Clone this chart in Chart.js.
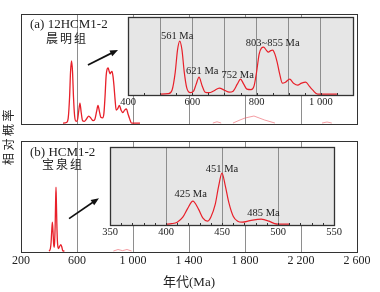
<!DOCTYPE html>
<html>
<head>
<meta charset="utf-8">
<script src="https://cdn.jsdelivr.net/npm/chart.js@4.4.0/dist/chart.umd.min.js"></script>
<style>
  html, body { margin: 0; padding: 0; background: #fff; }
  #wrap { position: relative; width: 380px; height: 292px; }
  #wrap canvas { position: absolute; left: 0; top: 0; }
</style>
</head>
<body>
<div id="wrap">
  <canvas id="mainA" width="380" height="292"></canvas>
  <canvas id="mainB" width="380" height="292"></canvas>
  <canvas id="insetA" width="380" height="292"></canvas>
  <canvas id="insetB" width="380" height="292"></canvas>
</div>
<script>
// (a) 12HCM1-2 晨明组 - probability density (main panel and inset share it)
const agesA = [500, 525, 537, 547, 554, 561, 568, 575, 583, 594, 604, 612, 621, 630, 640, 652, 668, 684, 700, 715,
               727, 740, 750, 760, 770, 783, 792, 800, 808, 815, 822, 830, 837, 844, 850, 857, 864, 872, 880, 890,
               903, 915, 928, 940, 953, 964, 975, 990, 1050];
const densA = [0, 0.5, 4, 22, 44, 53, 44, 22, 6, 1.5, 3, 10, 17, 9, 2, 1.5, 3.5, 6, 4, 2,
               3, 10, 15, 10, 5, 4.5, 8, 22, 40, 46, 47, 44, 42, 43.5, 44, 40, 32, 20, 11, 12,
               15, 11, 9, 11, 12, 8, 4, 0, 0];
// faint older ages in panel (a)
const faintAgesA = [1570, 1600, 1630, 1660, 1714, 1764, 1800, 1864, 1940, 2014, 2200, 2350, 2386, 2420];
const faintDensA = [0, 1.1, 0, null, 0, 2.6, 4.3, 6, 2.6, 0, null, 0, 0.9, 0];

// (b) HCM1-2 宝泉组
const agesB = [400, 405, 410, 415, 419, 424, 429, 433, 437, 440, 444, 447, 450, 453, 456, 460, 464, 468, 475, 485,
               492, 497, 500, 510];
const densB = [0, 0.5, 2, 7, 15, 23, 15, 6, 3, 7, 20, 38, 51, 38, 22, 8, 3, 2, 3.5, 5,
               3, 0.5, 0, 0];
const faintAgesB = [860, 893, 925, 957, 990];
const faintDensB = [0, 1.2, 0.3, 1.2, 0];

// tick values
const mainTicks = [200, 600, 1000, 1400, 1800, 2200, 2600];
const insetTicksA = [400, 500, 600, 700, 800, 900, 1000, 1100];
const insetLabelsA = [400, 600, 800, 1000];
const insetTicksB = [350, 400, 450, 500, 550];

const FONT = '"Liberation Serif", "Noto Sans CJK SC", serif';
const CJK = '"Noto Sans CJK SC", sans-serif';
const INK = '#222';
const RED = '#e8202a';
const PINK = 'rgba(236, 90, 100, 0.6)';
const GRID = '#8e8e8e';

const fmt = v => v >= 1000 ? String(v).replace(/(\d)(\d{3})$/, '$1 $2') : String(v);
const pts = (xs, ys) => xs.map((x, i) => ({ x, y: ys[i] }));

const innerGrid = (lo, hi) => c => (c.tick && (c.tick.value === lo || c.tick.value === hi)) ? 'rgba(0,0,0,0)' : GRID;

// frame + background of each panel
const framePlugin = {
  id: 'frame',
  beforeDraw(chart, args, o) {
    if (!o.fill) return;
    const a = chart.chartArea, ctx = chart.ctx;
    ctx.save();
    ctx.fillStyle = o.fill;
    ctx.fillRect(a.left, a.top, a.right - a.left, a.bottom - a.top);
    ctx.restore();
  },
  afterDatasetsDraw(chart, args, o) {
    const a = chart.chartArea, ctx = chart.ctx;
    ctx.save();
    ctx.strokeStyle = o.color || '#333';
    ctx.lineWidth = o.width || 1;
    ctx.strokeRect(Math.round(a.left) + 0.5, Math.round(a.top) + 0.5,
                   Math.round(a.right - a.left), Math.round(a.bottom - a.top));
    // small inner ticks along the bottom edge
    if (o.minor) {
      const x = chart.scales.x;
      ctx.lineWidth = 1;
      for (let v = x.min + o.minor; v < x.max; v += o.minor) {
        const px = Math.round(x.getPixelForValue(v)) + 0.5;
        ctx.beginPath();
        ctx.moveTo(px, a.bottom);
        ctx.lineTo(px, a.bottom - 2);
        ctx.stroke();
      }
    }
    ctx.restore();
  }
};

const arrowPlugin = {
  id: 'arrow',
  afterDatasetsDraw(chart, args, o) {
    if (!o.from) return;
    const { x, y } = chart.scales, ctx = chart.ctx;
    const x0 = x.getPixelForValue(o.from[0]), y0 = y.getPixelForValue(o.from[1]);
    const x1 = x.getPixelForValue(o.to[0]), y1 = y.getPixelForValue(o.to[1]);
    const ang = Math.atan2(y1 - y0, x1 - x0), L = 8, W = 3.2;
    const c = Math.cos(ang), s = Math.sin(ang);
    ctx.save();
    ctx.strokeStyle = ctx.fillStyle = '#111';
    ctx.lineWidth = 1.7;
    ctx.beginPath();
    ctx.moveTo(x0, y0);
    ctx.lineTo(x1 - L * 0.7 * c, y1 - L * 0.7 * s);
    ctx.stroke();
    ctx.beginPath();
    ctx.moveTo(x1, y1);
    ctx.lineTo(x1 - L * c + W * s, y1 - L * s - W * c);
    ctx.lineTo(x1 - L * c - W * s, y1 - L * s + W * c);
    ctx.closePath();
    ctx.fill();
    ctx.restore();
  }
};

const textPlugin = {
  id: 'texts',
  afterDatasetsDraw(chart, args, o) {
    const ctx = chart.ctx, { x, y } = chart.scales, a = chart.chartArea;
    ctx.save();
    ctx.fillStyle = INK;
    ctx.textBaseline = 'middle';
    (o.peaks || []).forEach(p => {
      ctx.font = '10.5px ' + FONT;
      ctx.textAlign = 'center';
      ctx.fillText(p.text, x.getPixelForValue(p.x), y.getPixelForValue(p.y));
    });
    if (o.name) {
      ctx.font = '13px ' + FONT;
      ctx.textAlign = 'left';
      ctx.fillText(o.name, a.left + 9, a.top + o.nameDy);
      ctx.font = '12px ' + CJK;
      ctx.textAlign = 'center';
      ctx.letterSpacing = '2px';
      ctx.fillText(o.unit, a.left + o.unitDx, a.top + o.unitDy);
      ctx.letterSpacing = '0px';
    }
    if (o.yTitle) {
      ctx.translate(8, (a.top + 252) / 2 + 3);
      ctx.rotate(-Math.PI / 2);
      ctx.font = '12px ' + CJK;
      ctx.textAlign = 'center';
      ctx.letterSpacing = '2.5px';
      ctx.fillText(o.yTitle, 0, 0);
    }
    ctx.restore();
  }
};

function panel(id, cfg) {
  return new Chart(document.getElementById(id), {
    type: 'line',
    data: { datasets: cfg.datasets },
    plugins: [framePlugin, arrowPlugin, textPlugin],
    options: {
      responsive: false,
      animation: false,
      devicePixelRatio: 1,
      layout: { padding: cfg.padding },
      elements: { point: { radius: 0 } },
      plugins: {
        legend: { display: false },
        tooltip: { enabled: false },
        frame: cfg.frame || {},
        arrow: cfg.arrow || {},
        texts: cfg.texts || {}
      },
      scales: {
        x: {
          type: 'linear',
          min: cfg.ticks[0],
          max: cfg.ticks[cfg.ticks.length - 1],
          afterBuildTicks: s => { s.ticks = cfg.ticks.map(v => ({ value: v })); },
          afterFit: s => { s.height = cfg.axisHeight; },
          border: { display: false },
          grid: { color: innerGrid(cfg.ticks[0], cfg.ticks[cfg.ticks.length - 1]), lineWidth: 1, drawTicks: false },
          ticks: {
            display: !!cfg.tickFont,
            autoSkip: false,
            maxRotation: 0,
            padding: cfg.tickPad || 2,
            color: INK,
            font: { family: FONT, size: cfg.tickFont || 10 },
            callback: v => (cfg.labels ? (cfg.labels.includes(v) ? fmt(v) : '') : fmt(v))
          },
          title: cfg.title ? {
            display: true, text: cfg.title, color: INK,
            font: { family: FONT, size: 13 }, padding: { top: 0, bottom: 2 }
          } : { display: false }
        },
        y: { display: false, min: cfg.yMin, max: cfg.yMax }
      }
    }
  });
}

const line = (data, color, width, smooth) => ({
  data, borderColor: color, borderWidth: width, fill: false, spanGaps: false,
  cubicInterpolationMode: smooth ? 'monotone' : 'default', tension: 0
});

// main panel (a)
panel('mainA', {
  padding: { left: 21, right: 23, top: 14, bottom: 168 },
  axisHeight: 0,
  ticks: mainTicks,
  yMin: -0.8, yMax: 93,
  datasets: [
    line(pts(faintAgesA, faintDensA), PINK, 1, false),
    line(pts(agesA, densA), RED, 1.3, true)
  ],
  frame: { color: '#333', width: 1 },
  arrow: { from: [678, 49.6], to: [893, 62.4] },
  texts: { name: '(a) 12HCM1-2', nameDy: 11, unit: '晨明组', unitDx: 46, unitDy: 24, yTitle: '相对概率' }
});

// main panel (b)
panel('mainB', {
  padding: { left: 21, right: 23, top: 141, bottom: 0 },
  axisHeight: 40,
  ticks: mainTicks,
  tickFont: 12,
  tickPad: 2,
  title: '年代(Ma)',
  yMin: -0.8, yMax: 88,
  datasets: [
    line(pts(faintAgesB, faintDensB), PINK, 1, false),
    line(pts(agesB, densB), RED, 1.3, true)
  ],
  frame: { color: '#333', width: 1 },
  arrow: { from: [543, 25.9], to: [757, 42.3] },
  texts: { name: '(b) HCM1-2', nameDy: 12, unit: '宝泉组', unitDx: 42, unitDy: 23 }
});

// inset (a): 400-1100 Ma
panel('insetA', {
  padding: { left: 128, right: 27, top: 17, bottom: 183 },
  axisHeight: 14,
  ticks: insetTicksA,
  labels: insetLabelsA,
  tickFont: 10.5,
  tickPad: 1,
  yMin: -0.8, yMax: 77,
  datasets: [line(pts(agesA, densA), RED, 1.2, true)],
  frame: { fill: '#e6e6e6', color: '#333', width: 1.3, minor: 50 },
  texts: {
    peaks: [
      { text: '561 Ma', x: 553, y: 58 },
      { text: '621 Ma', x: 631, y: 23 },
      { text: '752 Ma', x: 741, y: 19 },
      { text: '803~855 Ma', x: 850, y: 51 }
    ]
  }
});

// inset (b): 350-550 Ma
panel('insetB', {
  padding: { left: 110, right: 46, top: 147, bottom: 53 },
  axisHeight: 14,
  ticks: insetTicksB,
  tickFont: 10.5,
  tickPad: 1,
  yMin: -0.8, yMax: 77,
  datasets: [line(pts(agesB, densB), RED, 1.2, true)],
  frame: { fill: '#e6e6e6', color: '#333', width: 1.3, minor: 10 },
  texts: {
    peaks: [
      { text: '425 Ma', x: 422, y: 30 },
      { text: '451 Ma', x: 450, y: 55 },
      { text: '485 Ma', x: 487, y: 11 }
    ]
  }
});
</script>
</body>
</html>
